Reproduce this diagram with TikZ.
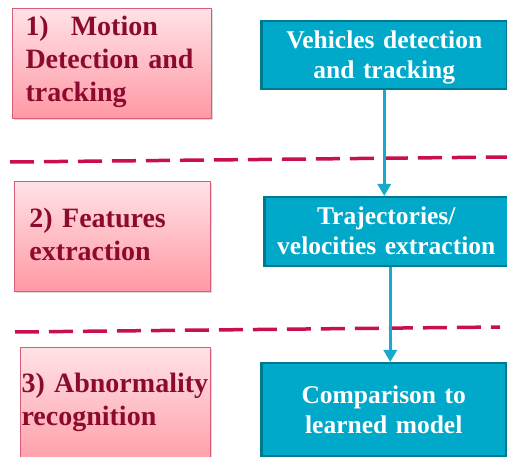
\documentclass[tikz,border=0pt]{standalone}
\usepackage{fontspec}
\setmainfont{Liberation Serif}
\usetikzlibrary{arrows.meta,shadows}
\definecolor{stagetext}{HTML}{8C0A2E}
\definecolor{stageline}{HTML}{D95C78}
\definecolor{stagetop}{HTML}{FFE2E6}
\definecolor{stagebot}{HTML}{FF98A4}
\definecolor{taskfill}{HTML}{00A9C9}
\definecolor{taskline}{HTML}{00788F}
\definecolor{flowblue}{HTML}{18AACB}
\definecolor{sepred}{HTML}{C8104A}

\begin{document}
\begin{tikzpicture}[x=1pt,y=-1pt]
\tikzstyle{every node}+=[inner sep=0pt, anchor=north west]
\tikzstyle{stage}=[draw=stageline, line width=1pt, top color=stagetop, bottom color=stagebot, align=left, text=stagetext, font=\bfseries\fontsize{28}{33}\selectfont, drop shadow={shadow xshift=1.5pt, shadow yshift=-2pt, opacity=0.3}]
\tikzstyle{task}=[draw=taskline, line width=2.5pt, fill=taskfill, align=center, text=white, font=\bfseries\fontsize{25.5}{30.5}\selectfont]
\tikzstyle{flow}=[draw=flowblue, line width=3pt, -{Triangle[length=12pt,width=13pt]}]
\tikzstyle{sep}=[draw=sepred, line width=3.5pt, dash pattern=on 24pt off 10pt]
\useasboundingbox (0,0) rectangle (507,457);
% separators
\draw [sep] (10,162) -- (507,157);
\draw [sep] (15,332) -- (500,327);
% stages
\node [stage, inner xsep=13pt, text width=173pt, text height=27pt, text depth=83pt] (motion) at (12,8) {1)\hspace{22pt}Motion\\Detection and\\tracking};
\node [stage, inner xsep=15pt, text width=166pt, text height=46pt, text depth=64pt] (features) at (14,181) {2) Features\\extraction};
\node [stage, inner xsep=1pt, text width=188pt, text height=45pt, text depth=80pt] (abnormal) at (20,347) {3) Abnormality\\recognition};
% tasks
\node [task, text width=246pt, text height=27pt, text depth=41pt] (vehicles) at (260,20) {Vehicles detection\\and tracking};
\node [task, text width=244pt, text height=27pt, text depth=42pt] (trajectories) at (263,196) {Trajectories/\\velocities extraction};
\node [task, text width=245pt, text height=40pt, text depth=53pt] (comparison) at (260,362) {Comparison to\\learned model};
\draw [flow] (vehicles.south) -- (vehicles.south |- trajectories.north);
\draw [flow] ([xshift=4pt]trajectories.south) -- ([xshift=4pt]trajectories.south |- comparison.north);
\end{tikzpicture}
\end{document}
